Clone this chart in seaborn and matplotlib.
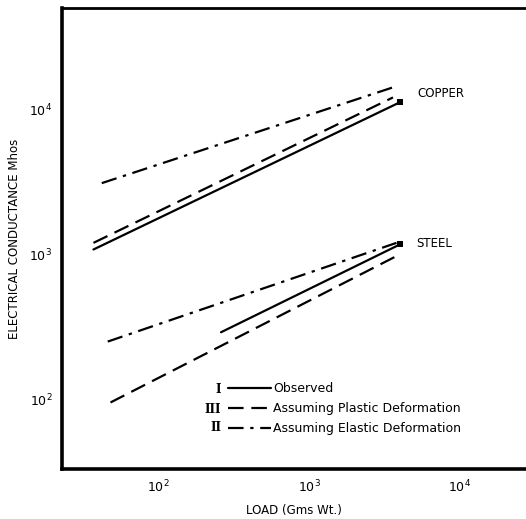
import matplotlib
matplotlib.use("Agg")
import matplotlib.pyplot as plt
import seaborn as sns
import pandas as pd

# ---- data ----
copper_obs_load = [37, 4000]
copper_obs = [1080, 11200]
copper_plastic_load = [37, 3600]
copper_plastic = [1200, 12100]
copper_elastic_load = [42, 3600]
copper_elastic = [3100, 14200]

steel_obs_load = [260, 4000]
steel_obs = [290, 1170]
steel_plastic_load = [48, 4000]
steel_plastic = [95, 1000]
steel_elastic_load = [46, 3800]
steel_elastic = [250, 1200]

end_load = [4000, 4000]
end_cond = [11200, 1170]

x_ticks = [100, 1000, 10000]
x_ticklabels = [r"$10^{2}$", r"$10^{3}$", r"$10^{4}$"]
y_ticks = [100, 1000, 10000]
y_ticklabels = [r"$10^{2}$", r"$10^{3}$", r"$10^{4}$"]

legend_labels = ["Observed", "Assuming Plastic Deformation", "Assuming Elastic Deformation"]
legend_numerals = ["I", "III", "II"]

sns.set_theme(style="white")
plt.rcParams['font.family'] = ['DejaVu Sans']
plt.rcParams['text.color'] = 'black'
plt.rcParams['axes.labelcolor'] = 'black'

fig = plt.figure(figsize=(5.26, 5.19), dpi=100)
ax = fig.add_axes([0.118, 0.0963, 0.882, 0.888])

styles = {
    "Observed": "-",
    "Plastic": (0, (7, 3.5)),
    "Elastic": (0, (7, 3, 1.5, 3)),
}
lw = 1.6
series = [
    (copper_obs_load, copper_obs, "Observed"),
    (copper_plastic_load, copper_plastic, "Plastic"),
    (copper_elastic_load, copper_elastic, "Elastic"),
    (steel_obs_load, steel_obs, "Observed"),
    (steel_plastic_load, steel_plastic, "Plastic"),
    (steel_elastic_load, steel_elastic, "Elastic"),
]
handles = {}
for xs, ys, kind in series:
    df = pd.DataFrame({"load": xs, "cond": ys})
    sns.lineplot(data=df, x="load", y="cond", ax=ax, color="black",
                 linewidth=lw, linestyle=styles[kind], sort=False,
                 estimator=None)
    handles[kind] = ax.lines[-1]

sns.scatterplot(x=end_load, y=end_cond, ax=ax, color="black", marker="s",
                s=14, linewidth=0, zorder=5)

ax.set_xscale("log")
ax.set_yscale("log")
ax.set_xlim(22.9, 27500)
ax.set_ylim(33, 50000)

ax.set_xticks(x_ticks)
ax.set_xticklabels(x_ticklabels)
ax.set_yticks(y_ticks)
ax.set_yticklabels(y_ticklabels)
ax.minorticks_off()
ax.tick_params(axis="both", which="major", length=2, width=1, labelsize=9,
               color="black", labelcolor="black", direction="out", pad=5)

for s in ["left", "bottom"]:
    ax.spines[s].set_linewidth(2.6)
    ax.spines[s].set_color("black")
ax.spines["top"].set_linewidth(2.0)
ax.spines["top"].set_color("black")
ax.spines["right"].set_visible(False)

ax.set_xlabel("LOAD (Gms Wt.)", fontsize=8.5, labelpad=6, color="black")
ax.set_ylabel("ELECTRICAL CONDUCTANCE Mhos", fontsize=8.5, labelpad=6,
              color="black")

ax.text(5250, 12800, "COPPER", fontsize=8.5, ha="left", va="center", color="black")
ax.text(5100, 1180, "STEEL", fontsize=8.5, ha="left", va="center", color="black")

leg_handles = [handles["Observed"], handles["Plastic"], handles["Elastic"]]
leg = ax.legend(leg_handles, legend_labels, loc="upper left",
                bbox_to_anchor=(0.357, 0.188), frameon=False, fontsize=9,
                handlelength=3.5, handletextpad=0.15, labelspacing=0.55,
                borderaxespad=0, borderpad=0, labelcolor="black")

row_y = [0.1735, 0.1302, 0.0911]
for num, yy in zip(legend_numerals, row_y):
    ax.text(0.343, yy, num, transform=ax.transAxes, fontsize=8.5,
            ha="right", va="center", fontweight="bold", family="DejaVu Serif",
            color="black")

fig.savefig("out.png", dpi=100)
